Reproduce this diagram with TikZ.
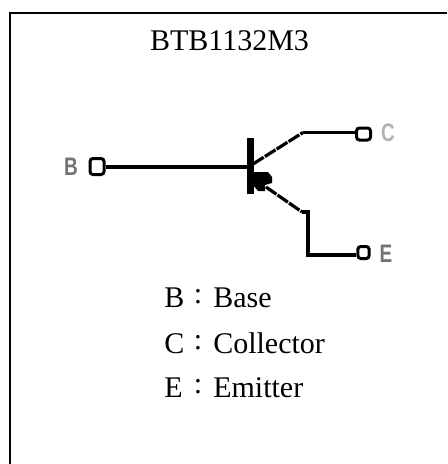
\documentclass[tikz,border=0pt]{standalone}
\usepackage{fontspec}
\setmainfont{Liberation Serif}
\newfontfamily\sansf{Liberation Sans}
\tikzset{
  frameline/.style={line width=1.9pt,line join=miter},
  wire/.style={line width=3pt,line cap=butt,line join=miter},
  thinwire/.style={line width=2.25pt,line cap=butt,line join=miter},
  dashwire/.style={line width=2.4pt,dash pattern=on 9.5pt off 1pt},
  terminal/.style={rectangle,rounded corners=2.2pt,draw,line width=2.25pt,inner sep=0pt,fill=white},
  lbl/.style={font=\fontsize{22.5pt}{26pt}\selectfont,inner sep=0pt,anchor=base west},
  colonlbl/.style={font=\fontsize{22.5pt}{26pt}\selectfont,inner sep=0pt,anchor=base},
  pin/.style={font=\sansf\bfseries\fontsize{19pt}{20pt}\selectfont,inner sep=0pt,text=black!55,xscale=0.75}
}
\begin{document}
\begin{tikzpicture}[x=0.75pt,y=-0.75pt]
\useasboundingbox (0,0) rectangle (447,464);
\coordinate (fTL) at (10,13);
\coordinate (fTR) at (447,13);
\coordinate (fBL) at (10,464);
\draw[frameline] (fBL) -- (fTL) -- (fTR);
\node[colonlbl] (title) at (229.5,50) {BTB1132M3};
\node[pin] (pb) at (71,166.5) {B};
\node[terminal,minimum width=10.5pt,minimum height=12pt] (b) at (97,166.5) {};
\node[terminal,minimum width=10.5pt,minimum height=9pt] (c) at (363.5,134) {};
\node[terminal,minimum width=8.5pt,minimum height=9pt] (e) at (363.5,252.5) {};
\node[pin,text=black!30] (pc) at (388,132.5) {C};
\node[pin] (pe) at (386,253.5) {E};
\coordinate (barT) at (250.5,138);
\coordinate (barB) at (250.5,194);
\coordinate (bj) at (250.5,167);
\coordinate (cj) at (253,164);
\coordinate (cb) at (303,132.5);
\coordinate (ej) at (266,187);
\coordinate (eb) at (302,212);
\coordinate (ev) at (308,212);
\coordinate (ed) at (308,254.5);
\draw[wire] (b.east |- bj) -- (bj);
\draw[line width=5.25pt] (barT) -- (barB);
\draw[dashwire] (cj) -- (cb);
\draw[thinwire] (cb) -- (cb -| c.west);
\draw[dashwire] (ej) -- (eb);
\draw[wire] (eb) -- (ev) -- (ed) -- (ed -| e.west);
\fill (253,172) -- (268,172) -- (272,177) -- (272,183) -- (265,185) -- (265,191) -- (258,191) -- (253,185) -- cycle;
\node[lbl] (lb) at (164,307) {B};
\node[lbl] (lb2) at (213,307) {Base};
\node[colonlbl] (cb1) at (198,303) {:};
\node[lbl] (lc) at (164,353) {C};
\node[lbl] (lc2) at (213,353) {Collector};
\node[colonlbl] (cb2) at (198,349) {:};
\node[lbl] (le) at (164,397) {E};
\node[lbl] (le2) at (213,397) {Emitter};
\node[colonlbl] (cb3) at (198,393) {:};
\end{tikzpicture}
\end{document}
